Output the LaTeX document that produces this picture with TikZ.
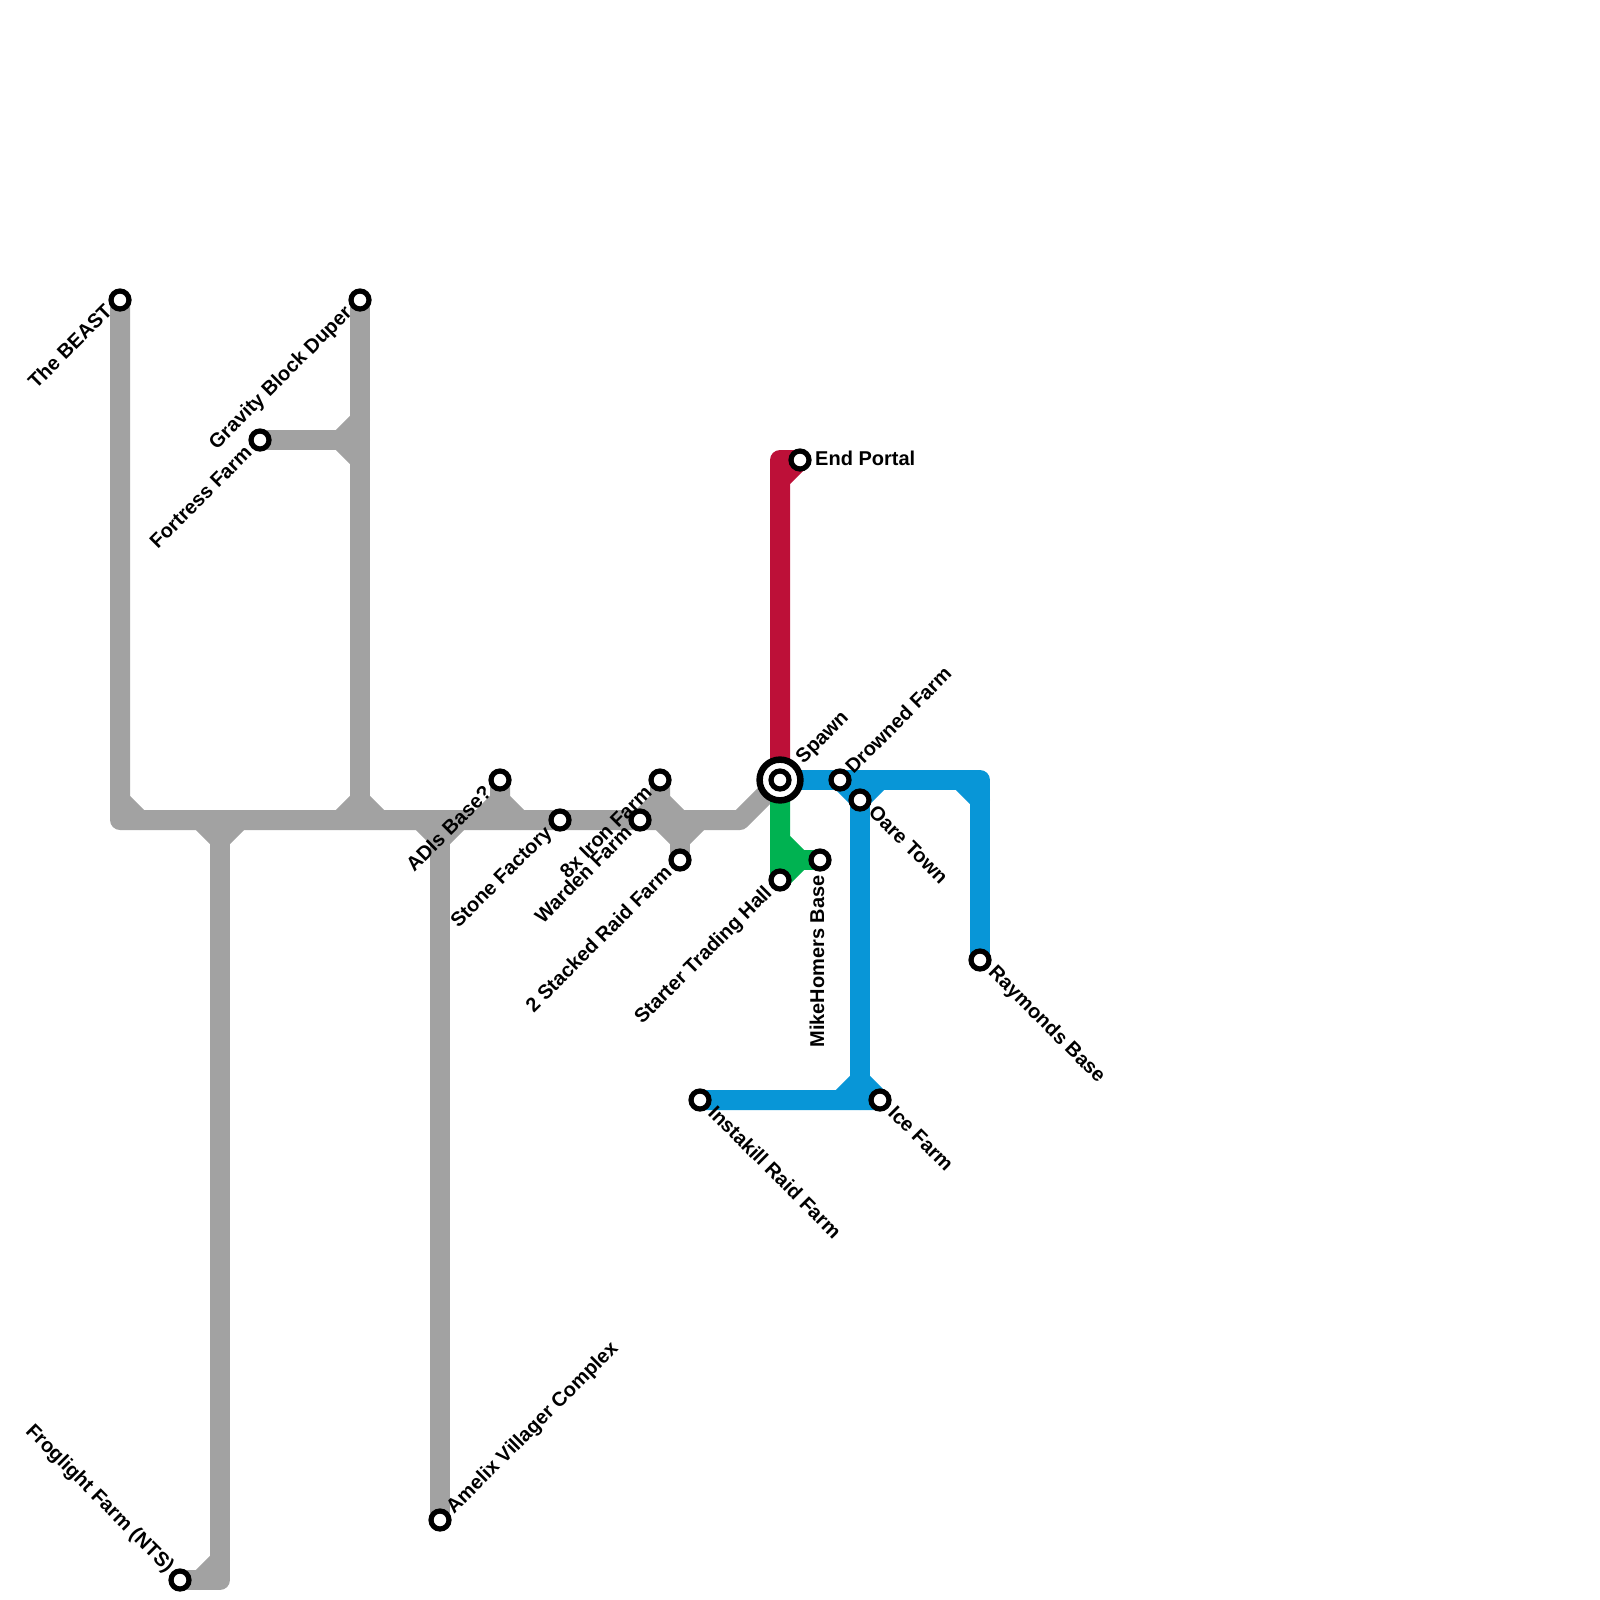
\documentclass[tikz,border=0pt]{standalone}
\usepackage{fontspec}
\setmainfont{Liberation Sans}
\definecolor{mgray}{HTML}{A2A2A2}
\definecolor{mred}{HTML}{BD1038}
\definecolor{mblue}{HTML}{0896D7}
\definecolor{mgreen}{HTML}{00B251}
\tikzset{
  metro/.style={line width=20pt,line cap=round,line join=round},
  stn/.style={circle,draw=black,fill=white,line width=5.2pt,minimum size=18pt,inner sep=0pt,outer sep=0pt},
  hubring/.style={circle,draw=black,fill=white,line width=6.5pt,minimum size=40.8pt,inner sep=0pt,outer sep=0pt},
  lab/.style={font=\bfseries\fontsize{20pt}{20pt}\selectfont,inner sep=0pt,text height=14pt,text depth=4pt},
  labUR/.style={lab,rotate=45,anchor=west},
  labDL/.style={lab,rotate=45,anchor=east},
  labDR/.style={lab,rotate=-45,anchor=west},
  labUL/.style={lab,rotate=-45,anchor=east},
}
\begin{document}
\begin{tikzpicture}[x=1pt,y=-1pt]
\useasboundingbox (0,0) rectangle (1600,1600);
% stations
\coordinate (beast) at (120,300);
\coordinate (gravity) at (360,300);
\coordinate (fortress) at (260,440);
\coordinate (froglight) at (180,1580);
\coordinate (amelix) at (440,1520);
\coordinate (adis) at (500,780);
\coordinate (stone) at (560,820);
\coordinate (warden) at (640,820);
\coordinate (iron) at (660,780);
\coordinate (raid) at (680,860);
\coordinate (spawn) at (780,780);
\coordinate (portal) at (800,460);
\coordinate (trading) at (780,880);
\coordinate (mike) at (820,860);
\coordinate (drowned) at (840,780);
\coordinate (oare) at (860,800);
\coordinate (raymond) at (980,960);
\coordinate (instakill) at (700,1100);
\coordinate (ice) at (880,1100);
% gray bends
\coordinate (g1) at (120,820);
\coordinate (g2) at (120,800);
\coordinate (g3) at (140,820);
\coordinate (g4) at (740,820);
\coordinate (g5) at (200,820);
\coordinate (g6) at (220,840);
\coordinate (g7) at (240,820);
\coordinate (g8) at (220,1580);
\coordinate (g9) at (220,1560);
\coordinate (g10) at (200,1580);
\coordinate (g11) at (360,820);
\coordinate (g12) at (360,800);
\coordinate (g13) at (340,820);
\coordinate (g14) at (380,820);
\coordinate (g15) at (360,420);
\coordinate (g16) at (360,440);
\coordinate (g17) at (360,460);
\coordinate (g18) at (340,440);
\coordinate (g19) at (420,820);
\coordinate (g20) at (440,840);
\coordinate (g21) at (460,820);
\coordinate (g22) at (500,800);
\coordinate (g23) at (480,820);
\coordinate (g24) at (520,820);
\coordinate (g25) at (660,800);
\coordinate (g26) at (640,820);
\coordinate (g27) at (680,820);
\coordinate (g28) at (660,820);
\coordinate (g29) at (680,840);
\coordinate (g30) at (700,820);
% blue bends
\coordinate (b1) at (980,780);
\coordinate (b2) at (960,780);
\coordinate (b3) at (980,800);
\coordinate (b4) at (880,780);
\coordinate (b5) at (860,1100);
\coordinate (b6) at (860,1080);
\coordinate (b7) at (840,1100);
% red bends
\coordinate (r1) at (780,460);
\coordinate (r2) at (780,480);
% green bends
\coordinate (v1) at (780,840);
\coordinate (v2) at (800,860);
% gray lines
\draw[metro,mgray] (beast) -- (g1) -- (g4) -- (spawn);
\draw[metro,mgray] (g2) -- (g3);
\draw[metro,mgray] (g5) -- (g6) -- (g7);
\draw[metro,mgray] (g6) -- (g8) -- (froglight);
\draw[metro,mgray] (g9) -- (g10);
\draw[metro,mgray] (gravity) -- (g11);
\draw[metro,mgray] (g13) -- (g12) -- (g14);
\draw[metro,mgray] (fortress) -- (g16);
\draw[metro,mgray] (g15) -- (g18) -- (g17);
\draw[metro,mgray] (g19) -- (g20) -- (g21);
\draw[metro,mgray] (g20) -- (amelix);
\draw[metro,mgray] (adis) -- (g22) -- (g24);
\draw[metro,mgray] (g22) -- (g23);
\draw[metro,mgray] (iron) -- (g25) -- (g27);
\draw[metro,mgray] (g25) -- (g26);
\draw[metro,mgray] (g28) -- (g29) -- (g30);
\draw[metro,mgray] (g29) -- (raid);
% blue lines
\draw[metro,mblue] (spawn) -- (b1) -- (raymond);
\draw[metro,mblue] (b2) -- (b3);
\draw[metro,mblue] (drowned) -- (oare) -- (b4);
\draw[metro,mblue] (oare) -- (b5);
\draw[metro,mblue] (instakill) -- (ice) -- (b6) -- (b7);
% red line
\draw[metro,mred] (spawn) -- (r1) -- (portal) -- (r2);
% green line
\draw[metro,mgreen] (spawn) -- (trading) -- (v2) -- (v1);
\draw[metro,mgreen] (v2) -- (mike);
% stations
\node[hubring] (spawnring) at (spawn) {};
\foreach \s in {beast,gravity,fortress,froglight,amelix,adis,stone,warden,iron,raid,spawn,portal,trading,mike,drowned,oare,raymond,instakill,ice}
  \node[stn] (st-\s) at (\s) {};
% labels
\node[labDL] (l-beast) at ([shift={(-10,9)}]beast) {The BEAST};
\node[labDL] (l-gravity) at ([shift={(-10.5,10.5)}]gravity) {Gravity Block Duper};
\node[labDL] (l-fortress) at ([shift={(-10.5,10.5)}]fortress) {Fortress Farm};
\node[labUL] (l-froglight) at ([shift={(-10,-10)}]froglight) {Froglight Farm (NTS)};
\node[labUR] (l-amelix) at ([shift={(10.5,-9)}]amelix) {Amelix Villager Complex};
\node[labDL] (l-adis) at ([shift={(-10.5,10.5)}]adis) {ADIs Base?};
\node[labDL] (l-stone) at ([shift={(-10.5,10.5)}]stone) {Stone Factory};
\node[labDL] (l-warden) at ([shift={(-10.5,10.5)}]warden) {Warden Farm};
\node[labDL] (l-iron) at ([shift={(-10.5,10.5)}]iron) {8x Iron Farm};
\node[labDL] (l-raid) at ([shift={(-10.5,10.5)}]raid) {2 Stacked Raid Farm};
\node[labDL] (l-trading) at ([shift={(-10.5,10.5)}]trading) {Starter Trading Hall};
\node[labUR] (l-spawn) at ([shift={(20,-19)}]spawn) {Spawn};
\node[lab,anchor=west] (l-portal) at ([shift={(15,0)}]portal) {End Portal};
\node[lab,rotate=90,anchor=east] (l-mike) at ([shift={(-1,15)}]mike) {MikeHomers Base};
\node[labUR] (l-drowned) at ([shift={(10,-9)}]drowned) {Drowned Farm};
\node[labDR] (l-oare) at ([shift={(11,9.5)}]oare) {Oare Town};
\node[labDR] (l-raymond) at ([shift={(11,10)}]raymond) {Raymonds Base};
\node[labDR] (l-instakill) at ([shift={(10.5,10.5)}]instakill) {Instakill Raid Farm};
\node[labDR] (l-ice) at ([shift={(10.5,10.5)}]ice) {Ice Farm};
\end{tikzpicture}
\end{document}
